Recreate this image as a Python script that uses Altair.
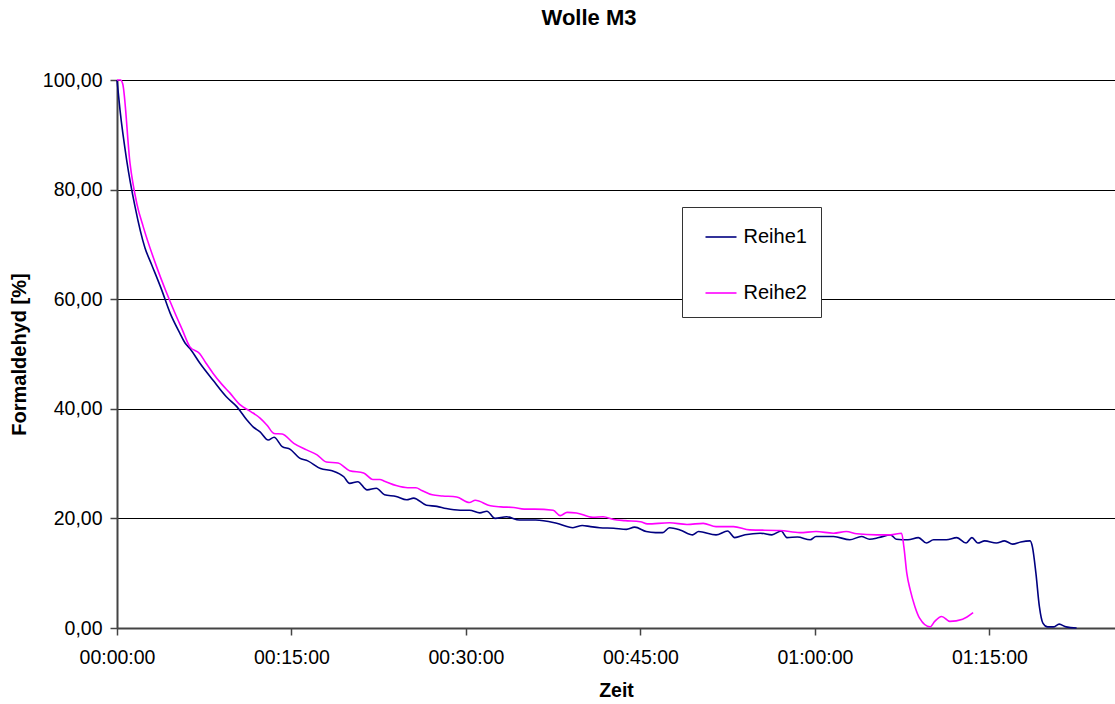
import altair as alt
import pandas as pd

# time in minutes, values in %
r1_t = [0, 0.26, 0.83, 1.55, 2.4, 2.98, 3.84, 4.56, 5.4, 5.85, 6.27, 7.1, 8.26, 9.4, 10.3, 11.15, 11.7,
        12.3, 13.0, 13.5, 14.2, 14.9, 15.7, 16.4, 17.5, 18.5, 19.5, 20.0, 20.7, 21.5, 22.3, 23.0, 24.0,
        24.9, 25.5, 26.6, 27.5, 28.3, 29.5, 30.3, 31.2, 31.8, 32.5, 33.5, 34.6, 36.0, 37.8, 39.2, 40.0,
        40.7, 41.5, 42.7, 43.8, 44.5, 45.5, 46.3, 46.9, 47.5, 48.4, 49.5, 50.0, 51.5, 52.5, 53.1, 54.0,
        55.3, 56.3, 57.1, 57.6, 58.5, 59.6, 60.1, 61.6, 63.0, 64.0, 64.7, 65.5, 66.5, 67.0, 68.0, 68.9,
        69.6, 70.2, 71.3, 72.2, 73.0, 73.5, 74.0, 74.6, 75.6, 76.3, 77.0, 77.7, 78.5, 78.7, 79.0, 79.3,
        79.6, 80.0, 80.5, 81.0, 81.6, 82.5]
r1_v = [100, 94.5, 85.4, 76.9, 69.4, 66.3, 61.7, 57.5, 53.8, 52.0, 51.0, 48.4, 45.2, 42.2, 40.4, 38.0, 36.7,
        35.8, 34.3, 34.8, 33.1, 32.6, 31.0, 30.5, 29.1, 28.7, 27.6, 26.4, 26.7, 25.2, 25.5, 24.3, 24.0,
        23.4, 23.7, 22.4, 22.2, 21.8, 21.5, 21.5, 21.0, 21.3, 20.0, 20.3, 19.7, 19.7, 19.1, 18.3, 18.7,
        18.5, 18.3, 18.2, 18.0, 18.4, 17.6, 17.4, 17.4, 18.3, 17.9, 17.0, 17.6, 17.0, 17.7, 16.5, 17.0,
        17.3, 17.0, 17.7, 16.5, 16.6, 16.1, 16.7, 16.7, 16.1, 16.7, 16.2, 16.5, 17.0, 16.2, 16.1, 16.5,
        15.5, 16.1, 16.1, 16.5, 15.5, 16.5, 15.5, 15.9, 15.5, 15.9, 15.3, 15.7, 15.9, 14.8, 10.0, 3.9,
        0.9, 0.2, 0.2, 0.7, 0.2, 0.0]

r2_t = [0, 0.3, 0.49, 1.12, 1.7, 2.26, 3.41, 4.2, 5.0, 5.6, 6.27, 7.1, 7.6, 8.25, 9.0, 9.7, 10.6, 11.5,
        12.3, 12.9, 13.5, 14.2, 15.2, 16.3, 17.2, 18.0, 19.0, 20.0, 21.2, 22.0, 22.6, 23.0, 24.0, 25.0,
        25.7, 26.2, 27.1, 28.0, 29.2, 30.3, 30.8, 32.1, 33.0, 34.1, 35.0, 35.9, 37.5, 38.1, 38.7, 39.5,
        40.9, 41.8, 42.7, 43.7, 45.0, 45.6, 47.5, 49.0, 50.4, 51.5, 53.0, 54.4, 57.0, 58.7, 60.1, 61.6,
        62.7, 63.6, 65.3, 66.5, 67.45, 67.65, 67.9, 68.2, 68.6, 69.0, 69.9, 70.3, 70.9, 71.6, 72.7, 73.6]
r2_v = [100, 100, 99.3, 84.8, 77.5, 73.2, 65.9, 61.5, 57.4, 54.5, 51.3, 50.1, 48.5, 46.5, 44.5, 42.9, 40.7, 39.5,
        38.3, 37.0, 35.5, 35.4, 33.7, 32.5, 31.6, 30.3, 30.1, 28.7, 28.3, 27.1, 27.1, 26.8, 26.0, 25.6,
        25.6, 25.1, 24.3, 24.1, 23.9, 22.9, 23.3, 22.3, 22.1, 22.0, 21.7, 21.7, 21.5, 20.5, 21.1, 21.0,
        20.2, 20.3, 19.8, 19.6, 19.4, 19.0, 19.2, 18.9, 19.1, 18.5, 18.5, 17.9, 17.8, 17.4, 17.6, 17.3,
        17.6, 17.2, 17.0, 17.0, 17.3, 14.8, 10.0, 6.9, 3.9, 1.8, 0.2, 1.2, 2.1, 1.2, 1.6, 2.8]

series = ["Reihe1", "Reihe2"]
colors = ["#000080", "#FF00FF"]
x_ticks = [0, 15, 30, 45, 60, 75]
y_ticks = [0, 20, 40, 60, 80, 100]

df = pd.concat([
    pd.DataFrame({"t": r1_t, "v": r1_v, "s": series[0], "o": range(len(r1_t))}),
    pd.DataFrame({"t": r2_t, "v": r2_v, "s": series[1], "o": range(len(r2_t))}),
])

FONT = "Liberation Sans"

chart = alt.Chart(df).mark_line(strokeWidth=1.6, interpolate="monotone").encode(
    x=alt.X("t:Q", scale=alt.Scale(domain=[0, 85.8], nice=False, zero=False),
            axis=alt.Axis(title="Zeit", values=x_ticks, grid=False, labelFlush=False,
                          labelOverlap=False,
                          labelExpr="utcFormat(datum.value * 60000, '%H:%M:%S')",
                          labelFont=FONT, labelFontSize=19.5, labelColor="#000",
                          labelPadding=13, tickSize=7, tickColor="#444", domainColor="#444",
                          domainWidth=2, tickWidth=1.5,
                          titleFont=FONT, titleFontSize=19.5, titleFontWeight="bold",
                          titleColor="#000", titlePadding=15)),
    y=alt.Y("v:Q", scale=alt.Scale(domain=[0, 100], nice=False),
            axis=alt.Axis(title="Formaldehyd [%]", values=y_ticks, grid=True,
                          gridColor="#000", gridWidth=1, gridOpacity=1, labelOverlap=False,
                          labelExpr="replace(format(datum.value, '.2f'), '.', ',')",
                          labelFont=FONT, labelFontSize=19.5, labelColor="#000",
                          labelPadding=8, tickSize=7, tickColor="#444", domainColor="#444",
                          domainWidth=2, tickWidth=1.5,
                          titleFont=FONT, titleFontSize=20, titleFontWeight="bold",
                          titleColor="#000", titlePadding=13)),
    color=alt.Color("s:N", scale=alt.Scale(domain=series, range=colors),
                    legend=alt.Legend(title=None, orient="none", legendX=565, legendY=127,
                                      symbolType="stroke", symbolSize=961, symbolStrokeWidth=1.6,
                                      labelFont=FONT, labelFontSize=20, labelColor="#000",
                                      labelOffset=6, rowPadding=29, padding=13.5, symbolOffset=9,
                                      strokeColor="#333", fillColor="#fff")),
    order="o:Q",
).properties(
    width=998, height=548,
    title=alt.TitleParams("Wolle M3", font=FONT, fontSize=22, fontWeight="bold", color="#000",
                          anchor="middle", dx=-27, offset=40),
    autosize=alt.AutoSizeParams(type="none"),
    padding={"left": 117, "top": 80, "right": 0, "bottom": 76},
).configure_view(stroke=None)

chart.save("out.html", embed_options={"renderer": "svg", "actions": False})
